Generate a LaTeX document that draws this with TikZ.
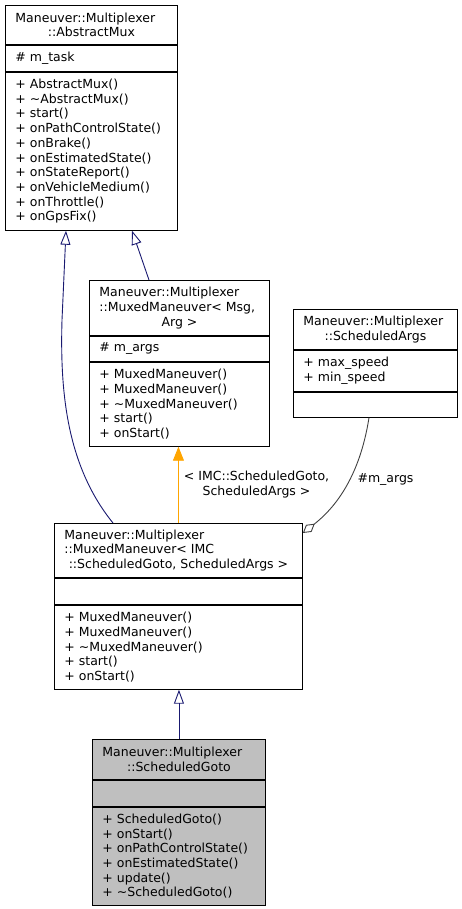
\documentclass[tikz,border=0pt]{standalone}
\usepackage{fontspec}
\setmainfont{DejaVu Sans}
\usepackage{xcolor}
\usepackage{tikz}
\usetikzlibrary{arrows.meta}
\usetikzlibrary{positioning}
\definecolor{edgeblue}{HTML}{191970}
\definecolor{edgeorange}{HTML}{FFA500}
\definecolor{leafgray}{HTML}{BFBFBF}
\newcommand{\lastline}[1]{\hspace*{\fill}#1\hspace*{\fill}\null}
\tikzstyle{head} = [draw, anchor=north west, align=flush left,
    inner xsep=10pt, inner ysep=0pt]
\tikzstyle{part} = [draw, align=flush left, inner xsep=10pt, inner ysep=0pt]
\tikzstyle{inherit} = [draw=edgeblue, -{Triangle[open, length=14pt, width=10pt]}]
\tikzstyle{bind} = [draw=edgeorange, -{Triangle[length=14pt, width=11pt]}]
\tikzstyle{member} = [draw=black!75, -{Diamond[open, length=15pt, width=9pt]}]

\begin{document}
\begin{tikzpicture}[x=1pt, y=-1pt, line width=0.9pt,
    font=\fontsize{12.5}{14.7}\selectfont]
\useasboundingbox (0,0) rectangle (461,909);
% AbstractMux
\node [head, text width=152pt, minimum height=39pt] (am) at (5,5)
    {Maneuver::Multiplexer\\\lastline{::AbstractMux}};
\node [part, text width=152pt, minimum height=26pt, below=0pt of am] (amattr)
    {\# m\_task};
\node [part, text width=152pt, minimum height=158pt, below=0pt of amattr] (amops)
    {+ AbstractMux()\\+ \textasciitilde AbstractMux()\\+ start()\\+ onPathControlState()\\+ onBrake()\\+ onEstimatedState()\\+ onStateReport()\\+ onVehicleMedium()\\+ onThrottle()\\+ onGpsFix()};
% MuxedManeuver< Msg, Arg >
\node [head, text width=160pt, minimum height=55pt] (mm) at (89,280)
    {Maneuver::Multiplexer\\::MuxedManeuver< Msg,\\\lastline{Arg >}};
\node [part, text width=160pt, minimum height=25pt, below=0pt of mm] (mmattr)
    {\# m\_args};
\node [part, text width=160pt, minimum height=84pt, below=0pt of mmattr] (mmops)
    {+ MuxedManeuver()\\+ MuxedManeuver()\\+ \textasciitilde MuxedManeuver()\\+ start()\\+ onStart()};
% ScheduledArgs
\node [head, text width=144pt, minimum height=40pt] (sa) at (293,309)
    {Maneuver::Multiplexer\\\lastline{::ScheduledArgs}};
\node [part, text width=144pt, minimum height=41pt, below=0pt of sa] (saattr)
    {+ max\_speed\\+ min\_speed};
\node [part, text width=144pt, minimum height=25pt, below=0pt of saattr] (saops) {};
% MuxedManeuver< IMC::ScheduledGoto, ScheduledArgs >
\node [head, text width=228pt, minimum height=54pt] (im) at (54,523)
    {Maneuver::Multiplexer\\::MuxedManeuver< IMC\\\lastline{::ScheduledGoto, ScheduledArgs >}};
\node [part, text width=228pt, minimum height=26pt, below=0pt of im] (imattr) {};
\node [part, text width=228pt, minimum height=84pt, below=0pt of imattr] (imops)
    {+ MuxedManeuver()\\+ MuxedManeuver()\\+ \textasciitilde MuxedManeuver()\\+ start()\\+ onStart()};
% ScheduledGoto
\node [head, fill=leafgray, text width=153pt, minimum height=40pt] (sg) at (92,739)
    {Maneuver::Multiplexer\\\lastline{::ScheduledGoto}};
\node [part, fill=leafgray, text width=153pt, minimum height=26pt, below=0pt of sg] (sgattr) {};
\node [part, fill=leafgray, text width=153pt, minimum height=98pt, below=0pt of sgattr] (sgops)
    {+ ScheduledGoto()\\+ onStart()\\+ onPathControlState()\\+ onEstimatedState()\\+ update()\\+ \textasciitilde ScheduledGoto()};
% edges
\draw [inherit] ([xshift=59pt]im.north west) .. controls (66,465) and (60,390) ..
    (62,320) -- ([xshift=61pt]amops.south west);
\draw [inherit] ([xshift=60pt]mm.north west) -- ([xshift=127pt]amops.south west);
\draw [bind] (im.north) -- (im.north |- mmops.south)
    node [midway, right=5pt, align=center, inner sep=0pt]
    {< IMC::ScheduledGoto,\\ScheduledArgs >};
\draw [member] ([xshift=76pt]saops.south west) .. controls (362,462) and (345,500) ..
    ([yshift=-10pt]im.north east)
    node [pos=0.5, right=8pt, inner sep=0pt] {\#m\_args};
\draw [inherit] (sg.north) -- (sg.north |- imops.south);
\end{tikzpicture}
\end{document}
